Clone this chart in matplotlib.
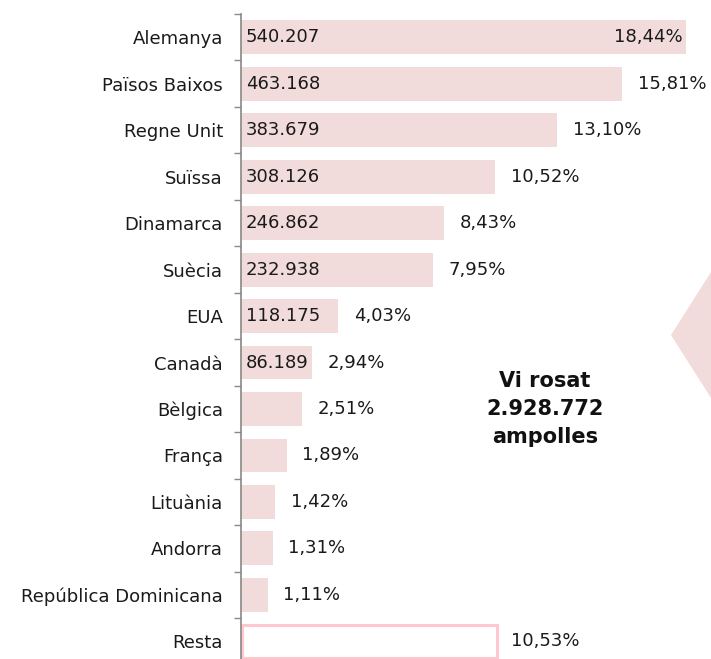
import matplotlib
matplotlib.use("Agg")
import matplotlib.pyplot as plt
from matplotlib.patches import Polygon
from matplotlib.ticker import FixedLocator

countries = ["Alemanya", "Països Baixos", "Regne Unit", "Suïssa", "Dinamarca",
             "Suècia", "EUA", "Canadà", "Bèlgica", "França", "Lituània",
             "Andorra", "República Dominicana", "Resta"]
shares = [18.44, 15.81, 13.10, 10.52, 8.43, 7.95, 4.03, 2.94, 2.51, 1.89,
          1.42, 1.31, 1.11, 10.53]
bottles = ["540.207", "463.168", "383.679", "308.126", "246.862", "232.938",
           "118.175", "86.189"]
total_label = "Vi rosat\n2.928.772\nampolles"

PINK = "#F2DCDB"
EDGE = "#FFC7CE"
TXT = "#1a1a1a"
FS = 13

plt.rcParams["font.family"] = ["DejaVu Sans"]

fig = plt.figure(figsize=(7.11, 6.59), dpi=100)

# decorative arrow tip on the right edge
fig.patches.append(Polygon([(1.0, 1 - 272 / 659), (671 / 711, 1 - 335 / 659),
                            (1.0, 1 - 398 / 659)],
                           closed=True, transform=fig.transFigure,
                           facecolor=PINK, edgecolor="none", zorder=0))

ax = fig.add_axes([241 / 711, 0.0, 470 / 711, 645 / 659])
ax.patch.set_alpha(0)

y = list(range(len(countries)))
for i, (c, s) in enumerate(zip(countries, shares)):
    if c == "Resta":
        ax.barh(i, s, height=0.72, left=0.06, color="white", edgecolor=EDGE,
                linewidth=2.2)
    else:
        ax.barh(i, s, height=0.73, color=PINK, edgecolor="none")

for i, b in enumerate(bottles):
    ax.text(0.2, i, b, va="center", ha="left", fontsize=FS, color=TXT)

for i, s in enumerate(shares):
    lab = f"{s:.2f}".replace(".", ",") + "%"
    if i == 0:
        ax.text(s - 0.15, i, lab, va="center", ha="right", fontsize=FS, color=TXT)
    else:
        ax.text(s + 0.65, i, lab, va="center", ha="left", fontsize=FS, color=TXT)

ax.text(12.6, 8.0, total_label, ha="center", va="center", fontsize=15,
        fontweight="bold", linespacing=1.5, color="#111111")

ax.set_xlim(0, 19.48)
ax.set_ylim(13.38, -0.5)
ax.set_yticks(y)
ax.set_yticklabels(countries, fontsize=FS, color=TXT)
ax.yaxis.set_minor_locator(FixedLocator([k - 0.5 for k in range(len(countries) + 1)]))
ax.tick_params(axis="y", which="major", length=0, pad=13)
ax.tick_params(axis="y", which="minor", length=5, color="#888888", width=1)
ax.set_xticks([])
for side in ["top", "right", "bottom"]:
    ax.spines[side].set_visible(False)
ax.spines["left"].set_color("#888888")
ax.spines["left"].set_linewidth(1.2)

fig.savefig("out.png", dpi=100)
